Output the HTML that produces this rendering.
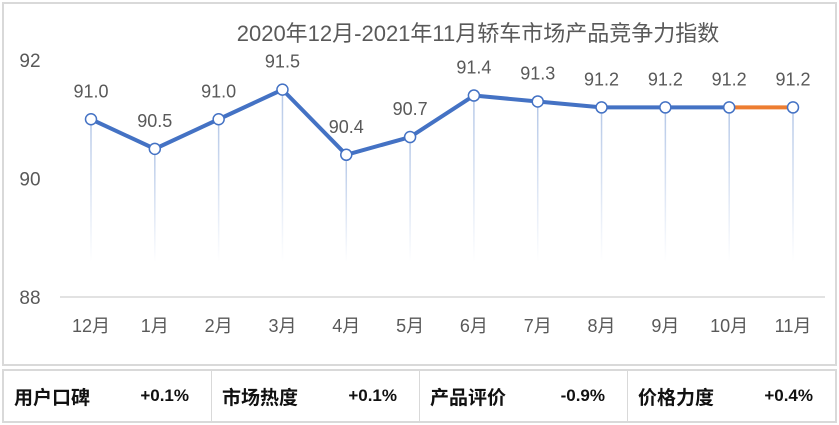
<!DOCTYPE html>
<html><head><meta charset="utf-8"><style>
body{margin:0;background:#fff;width:839px;height:425px;overflow:hidden;font-family:"Liberation Sans","Noto Sans CJK SC",sans-serif}
.box{position:absolute;left:2px;top:2px;width:831px;height:360px;border:2px solid #d9d9d9}
.tbl{position:absolute;left:2px;top:369px;width:831px;height:50px;border:2px solid #d9d9d9;display:flex}
.cell{flex:1;display:flex;align-items:center;justify-content:space-between;padding:0 22px 0 10px;font-size:19px;font-weight:bold;color:#111;border-right:1px solid #d9d9d9}
.cell:last-child{border-right:none}
.cell span:last-child{font-size:17px}
</style></head><body>
<div class="box"></div>
<svg id="c" width="839" height="425" style="position:absolute;left:0;top:0">
<defs><linearGradient id="dg" x1="0" y1="0" x2="0" y2="1"><stop offset="0" stop-color="#b4c7e7"/><stop offset="1" stop-color="#b4c7e7" stop-opacity="0"/></linearGradient></defs>
<text x="478" y="41" text-anchor="middle" font-size="22" fill="#595959">2020年12月-2021年11月轿车市场产品竞争力指数</text>
</svg>
<div class="tbl">
<div class="cell"><span>用户口碑</span><span>+0.1%</span></div>
<div class="cell"><span>市场热度</span><span>+0.1%</span></div>
<div class="cell"><span>产品评价</span><span>-0.9%</span></div>
<div class="cell"><span>价格力度</span><span>+0.4%</span></div>
</div>
<script>
const categories=["12月","1月","2月","3月","4月","5月","6月","7月","8月","9月","10月","11月"];
const values=[91.0,90.5,91.0,91.5,90.4,90.7,91.4,91.3,91.2,91.2,91.2,91.2];
const yTicks=[88,90,92];
const svg=document.getElementById('c');
const NS="http://www.w3.org/2000/svg";
const x=i=>91+i*(793-91)/(categories.length-1);
const y=v=>297-(v-88)*59.25;
function mk(t,a){const e=document.createElementNS(NS,t);for(const k in a)e.setAttribute(k,a[k]);svg.appendChild(e);return e;}
const g=mk('line',{x1:60,x2:825,y1:y(88),y2:y(88),stroke:'#d9d9d9','stroke-width':1.5});


yTicks.forEach(t=>{const e=mk('text',{x:30,y:y(t)+7,'text-anchor':'middle','font-size':19,fill:'#595959'});e.textContent=t;

});
categories.forEach((c,i)=>{const e=mk('text',{x:x(i),y:332,'text-anchor':'middle','font-size':18,fill:'#595959'});e.textContent=c;

});
values.forEach((v,i)=>{const d=mk('rect',{x:x(i)-0.75,y:y(v),width:1.5,height:Math.max(0,262-y(v)),fill:'url(#dg)'});

});
let p='';for(let i=0;i<values.length-1;i++)p+=(i?'L':'M')+x(i)+' '+y(values[i]);
const l=mk('path',{d:p,fill:'none',stroke:'#4472c4','stroke-width':4,'stroke-linejoin':'round'});


const n=values.length;
const o=mk('line',{x1:x(n-2),y1:y(values[n-2]),x2:x(n-1),y2:y(values[n-1]),stroke:'#ed7d31','stroke-width':4});


values.forEach((v,i)=>{const c=mk('circle',{cx:x(i),cy:y(v),r:5.5,fill:'#fff',stroke:'#4472c4','stroke-width':1.5});


const t=mk('text',{x:x(i),y:y(v)-22,'text-anchor':'middle','font-size':18,fill:'#595959'});t.textContent=v.toFixed(1);

});
</script>
</body></html>
